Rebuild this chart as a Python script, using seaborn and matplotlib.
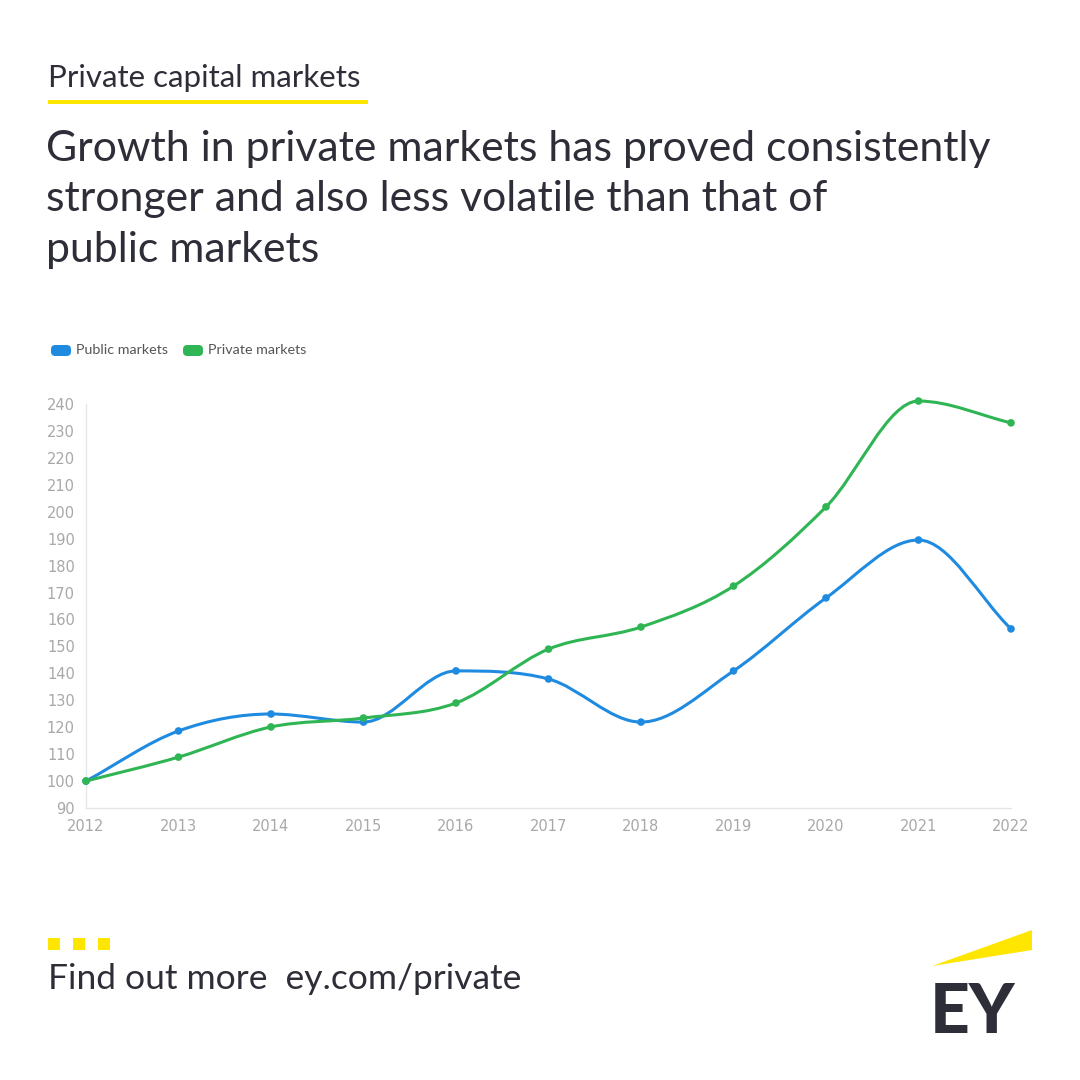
import numpy as np
import pandas as pd
import matplotlib
matplotlib.use("Agg")
import matplotlib.pyplot as plt
import seaborn as sns
from matplotlib.path import Path
from matplotlib.patches import PathPatch, FancyBboxPatch, Rectangle, Polygon

# Dados
anos = [2012, 2013, 2014, 2015, 2016, 2017, 2018, 2019, 2020, 2021, 2022]
publico = [100, 118.6, 124.9, 121.9, 140.9, 137.9, 121.9, 140.9, 168.0, 189.5, 156.5]
privado = [100, 108.9, 120.1, 123.4, 129.0, 149.0, 157.2, 172.4, 201.8, 241.1, 233.0]
series = ["Public markets", "Private markets"]
y_ticks = list(range(90, 241, 10))

azul = "#1f8be0"
verde = "#2fb553"
amarelo = "#ffe600"
escuro = "#2e2e38"
cinza = "#a8a8a8"

df = pd.DataFrame({
    "Ano": anos * 2,
    "Valor": publico + privado,
    "Serie": [series[0]] * len(anos) + [series[1]] * len(anos),
})

sns.set_style("white")
plt.rcParams["font.family"] = ["Lato", "DejaVu Sans"]


# curva suave (monotone cubic) desenhada como Bezier em coordenadas de dados
def curva_suave(ax, xs, ys, cor):
    xs = np.asarray(xs, float)
    ys = np.asarray(ys, float)
    h = np.diff(xs)
    d = np.diff(ys) / h
    m = np.zeros_like(ys)
    m[0], m[-1] = d[0], d[-1]
    for i in range(1, len(xs) - 1):
        if d[i - 1] * d[i] <= 0:
            m[i] = 0
        else:
            m[i] = (h[i - 1] * d[i - 1] + h[i] * d[i]) / (h[i - 1] + h[i])
            m[i] = np.sign(m[i]) * min(abs(m[i]), 3 * abs(d[i - 1]), 3 * abs(d[i]))
    verts = [(xs[0], ys[0])]
    codes = [Path.MOVETO]
    for i in range(len(xs) - 1):
        dx = h[i] / 3
        verts += [(xs[i] + dx, ys[i] + m[i] * dx),
                  (xs[i + 1] - dx, ys[i + 1] - m[i + 1] * dx),
                  (xs[i + 1], ys[i + 1])]
        codes += [Path.CURVE4] * 3
    p = PathPatch(Path(verts, codes), facecolor="none", edgecolor=cor,
                  lw=2.2, transform=ax.transData, zorder=3,
                  capstyle="round", joinstyle="round")
    p.set_clip_on(False)
    ax.add_patch(p)


fig = plt.figure(figsize=(10.8, 10.8), dpi=100)
ax = fig.add_axes([86 / 1080, 1 - 808 / 1080, 925 / 1080, 404 / 1080])

sns.scatterplot(data=df, x="Ano", y="Valor", hue="Serie", palette=[azul, verde],
                s=30, edgecolor="none", legend=False, ax=ax, zorder=4)
curva_suave(ax, anos, publico, azul)
curva_suave(ax, anos, privado, verde)

ax.set_xlim(2012, 2022)
ax.set_ylim(90, 240)
ax.set_xticks(anos)
ax.set_yticks(y_ticks)
ax.set_xlabel("")
ax.set_ylabel("")
for s in ["top", "right"]:
    ax.spines[s].set_visible(False)
for s in ["left", "bottom"]:
    ax.spines[s].set_color("#e6e6e6")
    ax.spines[s].set_linewidth(1)
ax.tick_params(axis="both", colors="#e0e0e0", length=5, width=1, labelcolor=cinza,
               labelsize=11, pad=3)
for lbl in ax.get_xticklabels() + ax.get_yticklabels():
    lbl.set_fontfamily(["DejaVu Sans"])
    lbl.set_fontsize(10.5)
for c in ax.collections:
    c.set_clip_on(False)

# legenda manual
for x0, cor, nome in [(51, azul, series[0]), (183, verde, series[1])]:
    fig.patches.append(FancyBboxPatch((x0 / 1080, 1 - 356 / 1080), 20 / 1080, 11 / 1080,
                                      boxstyle="round,pad=0,rounding_size=0.004",
                                      transform=fig.transFigure, facecolor=cor,
                                      edgecolor="none"))
    fig.text((x0 + 25) / 1080, 1 - 350 / 1080, nome, fontsize=10.3, color="#555555",
             va="center", ha="left")

# cabeçalho
fig.text(48 / 1080, 1 - 78 / 1080, "Private capital markets", fontsize=22.5, color=escuro,
         va="center", ha="left")
fig.patches.append(Rectangle((48 / 1080, 1 - 104 / 1080), 320 / 1080, 4 / 1080,
                             transform=fig.transFigure, facecolor=amarelo, edgecolor="none"))
fig.text(46 / 1080, 1 - 130 / 1080,
         "Growth in private markets has proved consistently\nstronger and also less volatile than that of\npublic markets",
         fontsize=30.8, color=escuro, va="top", ha="left", linespacing=1.4)

# rodapé
for x0 in [48, 73, 98]:
    fig.patches.append(Rectangle((x0 / 1080, 1 - 950 / 1080), 12 / 1080, 12 / 1080,
                                 transform=fig.transFigure, facecolor=amarelo,
                                 edgecolor="none"))
fig.text(48 / 1080, 1 - 979 / 1080, "Find out more  ey.com/private", fontsize=25.5,
         color=escuro, va="center", ha="left")

# logo EY
fig.patches.append(Polygon([(932 / 1080, 1 - 966 / 1080), (1032 / 1080, 1 - 930 / 1080),
                            (1032 / 1080, 1 - 950 / 1080)], closed=True,
                           transform=fig.transFigure, facecolor=amarelo, edgecolor="none"))
fig.text(930 / 1080, 1 - 1033 / 1080, "EY", fontsize=50, fontweight="black",
         color=escuro, va="baseline", ha="left")

fig.savefig("out.png", dpi=100, facecolor="white")
